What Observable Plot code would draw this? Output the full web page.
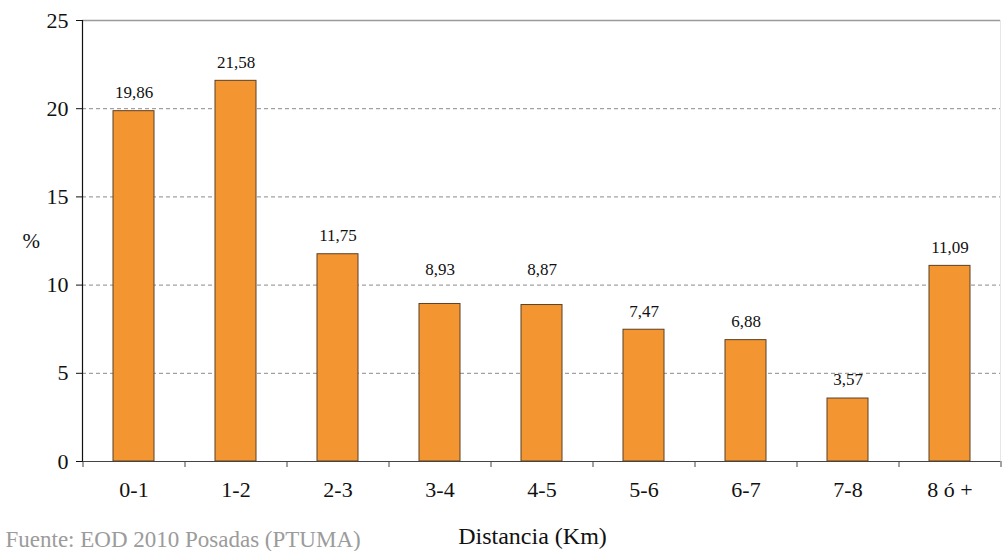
<!DOCTYPE html>
<html>
<head>
<meta charset="utf-8">
<script src="https://cdn.jsdelivr.net/npm/d3@7"></script>
<script src="https://cdn.jsdelivr.net/npm/@observablehq/plot@0.6"></script>
<style>
  html, body { margin: 0; padding: 0; background: #fff; }
  #chart svg, #chart svg text { font-family: "Liberation Serif", "Times New Roman", serif !important; }
</style>
</head>
<body>
<div id="chart"></div>
<script>
const categories = ["0-1", "1-2", "2-3", "3-4", "4-5", "5-6", "6-7", "7-8", "8 ó +"];
const values = [19.86, 21.58, 11.75, 8.93, 8.87, 7.47, 6.88, 3.57, 11.09];
const yTicks = [0, 5, 10, 15, 20, 25];
const gridTicks = [5, 10, 15, 20];
const yLabel = "%";
const xTitle = "Distancia (Km)";
const caption = "Fuente: EOD 2010 Posadas (PTUMA)";

const data = categories.map((c, i) => ({cat: c, val: values[i]}));
const fmt = v => v.toFixed(2).replace(".", ",");

// value labels sit a little above each bar, and hop over a gridline they would collide with
const labelY = v => {
  let y = v + 1.05;
  for (const g of gridTicks) if (Math.abs(y - g) < 0.3) y = g + 0.9;
  return y;
};

const W = 1002, H = 551, ml = 82, mr = 2, mt = 20, mb = 90;
const pInner = 0.6, pOuter = 0.3;
const step = (W - ml - mr) / (categories.length - pInner + 2 * pOuter);

const chart = Plot.plot({
  width: W,
  height: H,
  marginLeft: ml,
  marginRight: mr,
  marginTop: mt,
  marginBottom: mb,
  style: {background: "#fff", color: "#111"},
  x: {domain: categories, paddingInner: pInner, paddingOuter: pOuter, label: null},
  y: {domain: [0, 25], label: null},
  marks: [
    Plot.frame({anchor: "right", stroke: "#e6e6e6"}),
    Plot.ruleY(gridTicks, {stroke: "#8a8a8a", strokeDasharray: "4,3", strokeWidth: 1}),
    Plot.ruleY([25], {stroke: "#9a9a9a", strokeWidth: 1.5}),
    Plot.barY(data, {x: "cat", y: "val", fill: "#F39530", stroke: "#5b4026", strokeWidth: 1}),
    Plot.text(data, {x: "cat", y: d => labelY(d.val), text: d => fmt(d.val), fontSize: 17, fill: "#111"}),
    Plot.ruleY([0], {stroke: "#444", strokeWidth: 1.2}),
    Plot.frame({anchor: "left", stroke: "#111", strokeWidth: 1.2}),
    Plot.axisY(yTicks, {tickSize: 6, tickPadding: 8, fontSize: 22, label: null, stroke: "#111"}),
    Plot.axisX({tickSize: 0, tickPadding: 20, fontSize: 22, label: null}),
    Plot.ruleX(categories, {x: d => d, dx: -step / 2, y1: 0, y2: 0, insetBottom: -6, stroke: "#444"}),
    Plot.ruleX(categories.slice(-1), {x: d => d, dx: step / 2, y1: 0, y2: 0, insetBottom: -6, stroke: "#444"}),
    Plot.text([yLabel], {frameAnchor: "left", dx: -60, fontSize: 21, fill: "#111"}),
    Plot.text([xTitle], {frameAnchor: "bottom", dx: -9, dy: 82, fontSize: 24, fill: "#111"}),
    Plot.text([caption], {frameAnchor: "bottom-left", dx: -77, dy: 85, textAnchor: "start", fontSize: 23, fill: "#9b9b9b"})
  ]
});
document.getElementById("chart").appendChild(chart);
</script>
</body>
</html>
